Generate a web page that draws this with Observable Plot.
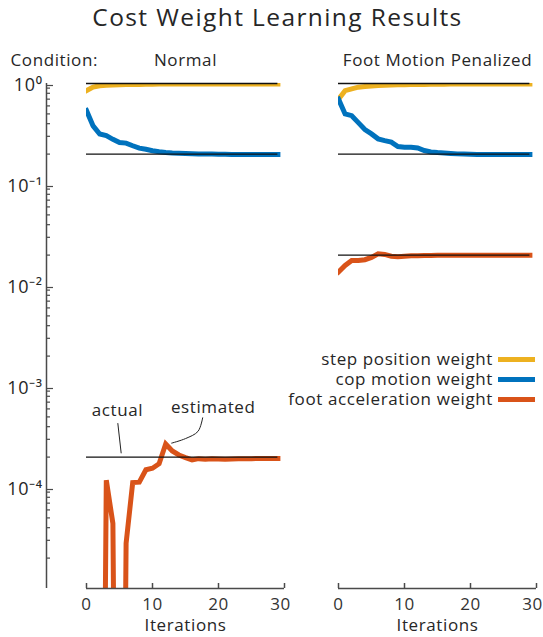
<!DOCTYPE html>
<html>
<head>
<meta charset="utf-8">
<script src="https://cdn.jsdelivr.net/npm/d3@7"></script>
<script src="https://cdn.jsdelivr.net/npm/@observablehq/plot@0.6"></script>
<style>
  body { margin: 0; background: #fff; font-family: "Open Sans", sans-serif; color: #262626; }
  #wrap { position: relative; width: 543px; height: 637px; overflow: hidden; }
  #title { position: absolute; left: 6px; top: 0; width: 543px; text-align: center; font-size: 24.5px; line-height: normal; letter-spacing: 1.4px; }
  #chart { position: absolute; left: 0; top: 40px; }
  #legend { position: absolute; right: 8px; top: 349px; font-size: 17px; letter-spacing: 0.6px; text-align: right; }
  #legend .row { height: 20px; line-height: 20px; white-space: nowrap; }
  #legend .sw { display: inline-block; width: 37px; height: 5px; margin-left: 5px; vertical-align: middle; position: relative; top: -1px; }
</style>
</head>
<body>
<div id="wrap">
  <div id="title">Cost Weight Learning Results</div>
  <div id="chart"></div>
  <div id="legend"></div>
</div>
<script>
// ---------- data ----------
const conditions = ["Normal", "Foot Motion Penalized"];
const series = ["step position weight", "cop motion weight", "foot acceleration weight"];
const seriesColors = ["#EDB120", "#0072BD", "#D95319"];
const iterations = [0,1,2,3,4,5,6,7,8,9,10,11,12,13,14,15,16,17,18,19,20,21,22,23,24,25,26,27,28,29];
const xTicks = [0, 10, 20, 30];
const yMajorTicks = [1, 1e-1, 1e-2, 1e-3, 1e-4];
const yMajorLabels = ["10⁰", "10⁻¹", "10⁻²", "10⁻³", "10⁻⁴"];

// actual (true) weights per condition, in series order
const actualNormal = [1, 0.2, 2e-4];
const actualPenalized = [1, 0.2, 0.02];

// estimated weights, Normal condition
const normalStep = [0.85,0.92,0.95,0.96,0.965,0.97,0.975,0.978,0.98,0.982,0.984,0.986,0.987,0.988,0.989,0.99,0.99,0.99,0.99,0.99,0.99,0.99,0.99,0.99,0.99,0.99,0.99,0.99,0.99,0.99];
const normalCop = [0.54,0.38,0.316,0.305,0.28,0.26,0.257,0.242,0.229,0.223,0.216,0.211,0.207,0.205,0.204,0.203,0.202,0.201,0.2,0.2,0.199,0.199,0.198,0.198,0.198,0.198,0.198,0.198,0.198,0.198];
const normalFoot = [1e-12,1e-12,1e-12,1.18e-4,4.4e-5,1e-12,2.8e-5,1.12e-4,1.13e-4,1.5e-4,1.55e-4,1.72e-4,2.7e-4,2.3e-4,2.1e-4,1.98e-4,1.88e-4,1.93e-4,1.9e-4,1.93e-4,1.92e-4,1.9e-4,1.92e-4,1.93e-4,1.93e-4,1.93e-4,1.94e-4,1.94e-4,1.94e-4,1.94e-4];

// estimated weights, Foot Motion Penalized condition
const penStep = [0.7,0.85,0.886,0.92,0.934,0.945,0.955,0.96,0.965,0.97,0.972,0.975,0.978,0.98,0.982,0.984,0.985,0.986,0.987,0.988,0.989,0.99,0.99,0.99,0.99,0.99,0.99,0.99,0.99,0.99];
const penCop = [0.7,0.5,0.48,0.41,0.35,0.317,0.283,0.272,0.263,0.238,0.234,0.234,0.23,0.217,0.21,0.207,0.205,0.203,0.201,0.2,0.199,0.198,0.198,0.198,0.198,0.198,0.198,0.198,0.198,0.198];
const penFoot = [0.0136,0.0158,0.0177,0.0177,0.018,0.019,0.0206,0.0203,0.0195,0.0193,0.0195,0.0197,0.0197,0.0198,0.0198,0.0199,0.0199,0.0199,0.0199,0.0199,0.0199,0.0199,0.0199,0.0199,0.0199,0.0199,0.0199,0.0199,0.0199,0.0199];

// annotation anchors (data space, Normal panel)
const annotations = [
  {text: "actual", x: 4.7, y: 5.8e-4},
  {text: "estimated", x: 19.2, y: 6.2e-4}
];
const actualLeader = [{x: 4.75, y: 4.3e-4}, {x: 5.25, y: 2.2e-4}];
const estimatedLeader = [{x: 17.6, y: 4.9e-4}, {x: 16.9, y: 3.6e-4}, {x: 15.0, y: 3.05e-4}, {x: 12.9, y: 2.75e-4}];

// ---------- build tables ----------
const estimates = {
  "Normal": [normalStep, normalCop, normalFoot],
  "Foot Motion Penalized": [penStep, penCop, penFoot]
};
const actuals = {"Normal": actualNormal, "Foot Motion Penalized": actualPenalized};
const rows = [];
for (const c of conditions) {
  series.forEach((s, k) => {
    iterations.forEach((it, j) => rows.push({condition: c, series: s, iteration: it, value: estimates[c][k][j]}));
  });
}
const actualRows = [];
for (const c of conditions) series.forEach((s, k) => actualRows.push({condition: c, series: s, value: actuals[c][k]}));
const facetRows = conditions.map(c => ({condition: c}));
const tickRows = [];
for (const c of conditions) for (const t of xTicks) tickRows.push({condition: c, tick: t});
const lastIt = iterations[iterations.length - 1];
const lastTick = xTicks[xTicks.length - 1];

const yMinorTicks = [];
for (const m of [1e-1, 1e-2, 1e-3, 1e-4, 1e-5]) for (let k = 2; k <= 9; k++) yMinorTicks.push(+(k * m).toPrecision(3));

const axisColor = "#4a4a4a";
const textColor = "#262626";

const chart = Plot.plot({
  width: 543,
  height: 597,
  marginLeft: 86,
  marginRight: 7,
  marginTop: 43,
  marginBottom: 49,
  style: {fontFamily: "'Open Sans', sans-serif", color: textColor, background: "#fff", letterSpacing: "0.6px", overflow: "visible"},
  fx: {domain: conditions, paddingInner: 0.2143, paddingOuter: 0, axis: null},
  x: {domain: [0, 30], axis: null},
  y: {type: "log", domain: [1e-5, 1], axis: null},
  color: {domain: series, range: seriesColors},
  marks: [
    Plot.lineY(rows, {fx: "condition", x: "iteration", y: "value", z: "series", stroke: "series",
      strokeWidth: 5, clip: true, strokeLinejoin: "miter", strokeMiterlimit: 4, strokeLinecap: "square"}),
    Plot.ruleY(actualRows, {fx: "condition", y: "value", x1: 0, x2: lastIt, stroke: "#111", strokeWidth: 1.3}),
    // y axis (left panel only)
    Plot.ruleX(facetRows.filter(d => d.condition === "Normal"), {fx: "condition", x: 0, y1: 1e-5, y2: 1, dx: -40, stroke: axisColor, strokeWidth: 1.5}),
    Plot.axisY({ticks: yMajorTicks, tickFormat: d => yMajorLabels[yMajorTicks.indexOf(d)], tickSize: -7, tickPadding: 11,
      dx: -40, dy: 2, fontSize: 18, stroke: axisColor, strokeWidth: 1.2, fill: textColor, label: null}),
    Plot.axisY({ticks: yMinorTicks, tickFormat: () => "", tickSize: -4, dx: -40, stroke: axisColor, strokeWidth: 1.2, label: null}),
    // x axis
    Plot.ruleY([1e-5], {stroke: axisColor, strokeWidth: 1.5}),
    Plot.axisX({ticks: xTicks, tickSize: -5, tickFormat: () => "", stroke: axisColor, strokeWidth: 1.5, label: null}),
    Plot.text(tickRows.filter(d => d.tick !== lastTick), {fx: "condition", x: "tick", frameAnchor: "bottom", lineAnchor: "middle", text: d => String(d.tick), dy: 16, fontSize: 17, fill: "#333"}),
    Plot.text(tickRows.filter(d => d.tick === lastTick), {fx: "condition", x: "tick", frameAnchor: "bottom", lineAnchor: "middle", text: d => String(d.tick), dy: 16, dx: -4, fontSize: 17, fill: "#333"}),
    Plot.text(facetRows, {fx: "condition", frameAnchor: "bottom", lineAnchor: "middle", text: () => "Iterations", dy: 37, fontSize: 17, fill: textColor}),
    // facet labels
    Plot.text(facetRows, {fx: "condition", frameAnchor: "top", lineAnchor: "middle", text: "condition", dy: -23, fontSize: 17, fill: textColor}),
    Plot.text(facetRows.filter(d => d.condition === "Normal"), {fx: "condition", frameAnchor: "top-left", lineAnchor: "middle", text: () => "Condition:", textAnchor: "start", dx: -76, dy: -23, fontSize: 17, fill: textColor}),
    // annotations
    Plot.text(annotations, {fx: () => "Normal", x: "x", y: "y", text: "text", fontSize: 17, fill: textColor}),
    Plot.line(actualLeader, {fx: () => "Normal", x: "x", y: "y", stroke: "#222", strokeWidth: 1}),
    Plot.line(estimatedLeader, {fx: () => "Normal", x: "x", y: "y", stroke: "#222", strokeWidth: 1, curve: "catmull-rom"})
  ]
});
document.getElementById("chart").appendChild(chart);

// legend
const legend = document.getElementById("legend");
series.forEach((s, k) => {
  const row = document.createElement("div");
  row.className = "row";
  row.appendChild(document.createTextNode(s));
  const sw = document.createElement("span");
  sw.className = "sw";
  sw.style.background = seriesColors[k];
  row.appendChild(sw);
  legend.appendChild(row);
});
</script>
</body>
</html>
